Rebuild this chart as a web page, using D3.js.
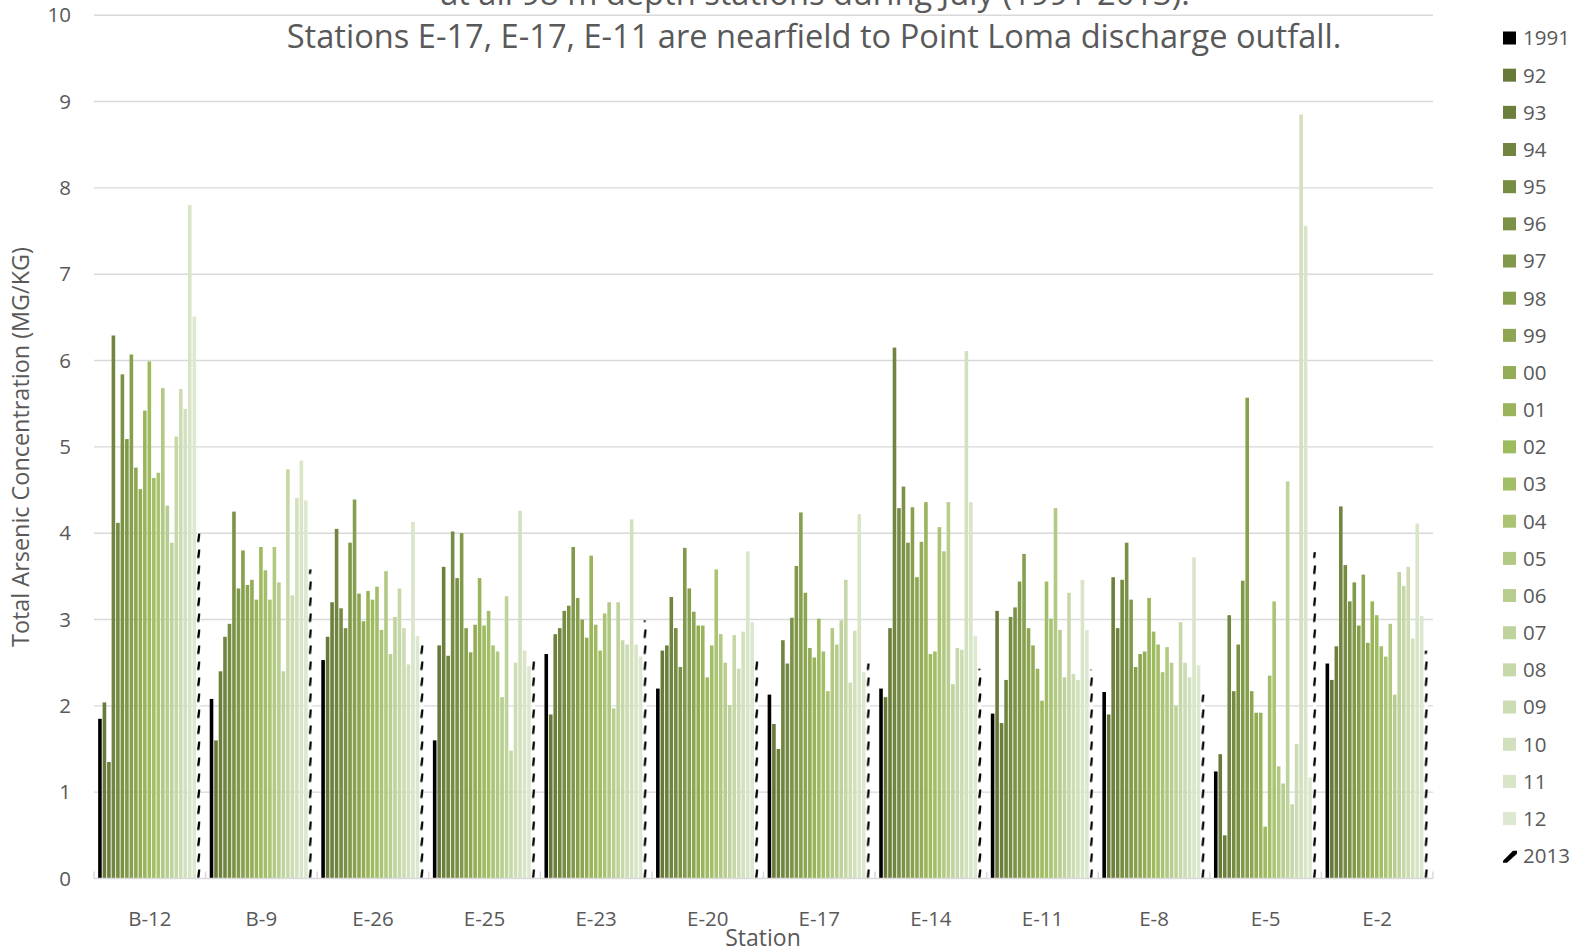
<!DOCTYPE html>
<html><head><meta charset="utf-8">
<script src="https://cdn.jsdelivr.net/npm/d3@7"></script>
<style>
body{margin:0;background:#fff;}
text{font-family:'Open Sans','Liberation Sans',sans-serif;fill:#595959;}
</style>
</head><body>
<svg id="c" width="1585" height="952"></svg>
<script>
// ---------- data ----------
const stations = ["B-12","B-9","E-26","E-25","E-23","E-20","E-17","E-14","E-11","E-8","E-5","E-2"];
const years = ["1991","92","93","94","95","96","97","98","99","00","01","02","03","04","05","06","07","08","09","10","11","12","2013"];
const yTicks = [0,1,2,3,4,5,6,7,8,9,10];
const titleLines = ["at all 98 m depth stations during July (1991-2013).",
                    "Stations E-17, E-17, E-11 are nearfield to Point Loma discharge outfall."];
const yTitle = "Total Arsenic Concentration (MG/KG)";
const xTitle = "Station";

// values per station, one per year (1991 ... 2013)
const vB12 = [1.85,2.04,1.35,6.29,4.12,5.84,5.09,6.07,4.76,4.51,5.42,5.99,4.64,4.70,5.68,4.32,3.89,5.12,5.67,5.44,7.80,6.51,4.03];
const vB9  = [2.08,1.60,2.40,2.80,2.95,4.25,3.36,3.80,3.40,3.46,3.23,3.84,3.57,3.23,3.84,3.43,2.40,4.74,3.28,4.41,4.84,4.38,3.58];
const vE26 = [2.53,2.80,3.20,4.05,3.13,2.90,3.89,4.39,3.30,2.98,3.33,3.23,3.38,2.88,3.56,2.60,3.03,3.36,2.90,2.48,4.13,2.81,2.71];
const vE25 = [1.60,2.70,3.61,2.58,4.02,3.48,4.00,2.90,2.62,2.94,3.48,2.93,3.10,2.70,2.63,2.10,3.27,1.48,2.50,4.26,2.64,2.46,2.54];
const vE23 = [2.60,1.90,2.83,2.90,3.10,3.16,3.84,3.25,3.00,2.79,3.74,2.94,2.64,3.07,3.20,1.97,3.20,2.76,2.71,4.16,2.71,2.57,2.99];
const vE20 = [2.20,2.64,2.70,3.26,2.90,2.45,3.83,3.36,3.09,2.93,2.93,2.33,2.70,3.58,2.83,2.50,2.01,2.82,2.43,2.86,3.79,2.97,2.53];
const vE17 = [2.13,1.79,1.50,2.76,2.49,3.02,3.62,4.24,3.31,2.67,2.56,3.01,2.63,2.17,2.90,2.71,2.99,3.46,2.27,2.87,4.22,2.39,2.49];
const vE14 = [2.20,2.10,2.90,6.15,4.29,4.54,3.89,4.30,3.49,3.90,4.36,2.60,2.63,4.07,3.79,4.36,2.25,2.67,2.65,6.11,4.36,2.81,2.43];
const vE11 = [1.91,3.10,1.80,2.30,3.03,3.14,3.44,3.76,2.90,2.70,2.43,2.06,3.44,3.01,4.29,2.88,2.33,3.31,2.37,2.30,3.46,2.88,2.42];
const vE8  = [2.16,1.90,3.49,2.90,3.46,3.89,3.23,2.45,2.60,2.63,3.25,2.86,2.71,2.39,2.68,2.50,2.00,2.97,2.50,2.33,3.72,2.47,2.13];
const vE5  = [1.24,1.44,0.50,3.05,2.17,2.71,3.45,5.57,2.17,1.92,1.92,0.60,2.35,3.21,1.30,1.10,4.60,0.86,1.56,8.85,7.56,1.17,3.78];
const vE2  = [2.49,2.30,2.69,4.31,3.63,3.21,3.43,2.93,3.52,2.73,3.21,3.05,2.69,2.57,2.95,2.13,3.55,3.39,3.61,2.78,4.11,3.04,2.64];
const stationValues = [vB12,vB9,vE26,vE25,vE23,vE20,vE17,vE14,vE11,vE8,vE5,vE2];

const colors = ["#000000","#687a3a","#6c803c","#718540","#768c43","#7b9246","#81994a","#87a04e",
                "#8ea652","#93ad56","#99b45a","#9ebb5e","#a3be68","#aac474","#b1c982","#b8ce8f",
                "#bfd39c","#c6d8a8","#ccdcb3","#d2e0be","#d8e5c7","#dde8d0","hatch"];

// ---------- layout ----------
const svg = d3.select("#c");
const L = 94, R = 1433, T = 15.2, B = 878.5;
const x = d3.scaleBand().domain(stations).range([L, R]).paddingInner(0.074).paddingOuter(0.037);
const xi = d3.scaleBand().domain(years).range([0, x.bandwidth()]);
const y = d3.scaleLinear().domain([0, 10]).range([B, T]);
const bw = xi.bandwidth() - 0.9;

// hatch pattern for 2013 (in the coordinate system of each station group)
const defs = svg.append("defs");
const pat = defs.append("pattern").attr("id", "hatch")
  .attr("patternUnits", "userSpaceOnUse")
  .attr("x", xi("2013")).attr("y", y(0))
  .attr("width", x.step()).attr("height", 16);
pat.append("rect").attr("width", bw).attr("height", 16).attr("fill", "#fff");
pat.append("path")
  .attr("d", `M0,15.5 L2.4,15.5 L${bw},7 L${bw - 2.4},7 Z`)
  .attr("fill", "#000");

// gridlines
svg.append("g").selectAll("line").data(yTicks.filter(t => t > 0)).join("line")
  .attr("x1", L).attr("x2", R).attr("y1", d => y(d)).attr("y2", d => y(d))
  .attr("stroke", "#d9d9d9").attr("stroke-width", 1.4);

// y axis labels
const ya = svg.append("g").attr("transform", `translate(${L},0)`)
  .call(d3.axisLeft(y).tickValues(yTicks).tickSize(0).tickPadding(23).tickFormat(d3.format("d")));
ya.select(".domain").remove();
ya.selectAll("text").attr("font-size", 20.5).attr("font-family", null).attr("fill", "#595959");

// bars
const groups = svg.append("g").selectAll("g").data(stations).join("g")
  .attr("transform", s => `translate(${x(s)},0)`);
groups.selectAll("rect").data((s, si) => years.map((yr, k) => ({yr, k, v: stationValues[si][k]})))
  .join("rect")
  .attr("x", d => xi(d.yr)).attr("width", bw)
  .attr("y", d => y(d.v)).attr("height", d => y(0) - y(d.v))
  .attr("fill", d => colors[d.k] === "hatch" ? "url(#hatch)" : colors[d.k]);

// baseline & category boundary ticks
svg.append("line").attr("x1", L).attr("x2", R).attr("y1", B).attr("y2", B)
  .attr("stroke", "#d9d9d9").attr("stroke-width", 1.5);
svg.append("g").selectAll("line").data(d3.range(stations.length + 1)).join("line")
  .attr("x1", i => L + i * x.step()).attr("x2", i => L + i * x.step())
  .attr("y1", B).attr("y2", B - 7).attr("stroke", "#d9d9d9").attr("stroke-width", 1.5);

// x axis labels
const xa = svg.append("g").attr("transform", `translate(0,${B})`)
  .call(d3.axisBottom(x).tickSize(0).tickPadding(33));
xa.select(".domain").remove();
xa.selectAll("text").attr("font-size", 20.5).attr("font-family", null).attr("fill", "#595959");

// axis titles
svg.append("text").attr("x", 763).attr("y", 946).attr("text-anchor", "middle")
  .attr("font-size", 23).text(xTitle);
const yt = svg.append("text").attr("transform", "translate(29,447) rotate(-90)")
  .attr("text-anchor", "middle").attr("font-size", 23).text(yTitle);
const ytl = yt.node().getComputedTextLength();
yt.attr("font-size", 23 * 400 / ytl);

// chart title (first line runs off the top, as in the original)
const t2 = svg.append("text").attr("x", 814).attr("y", 48).attr("text-anchor", "middle")
  .attr("font-size", 30).text(titleLines[1]);
const fs = 30 * 1055 / t2.node().getComputedTextLength();
t2.attr("font-size", fs);
svg.append("text").attr("x", 815).attr("y", 5).attr("text-anchor", "middle")
  .attr("font-size", fs).text(titleLines[0]);

// legend
const lg = svg.append("g").selectAll("g").data(years).join("g")
  .attr("transform", (d, i) => `translate(1503,${38 + i * 37.17})`);
lg.filter(d => colors[years.indexOf(d)] !== "hatch").append("rect")
  .attr("x", 0).attr("y", -6.5).attr("width", 13).attr("height", 13)
  .attr("fill", d => colors[years.indexOf(d)]);
lg.filter(d => colors[years.indexOf(d)] === "hatch").append("path")
  .attr("d", "M0,5 L0,7 L4,7 L14,-2 L14,-5 L10,-5 Z").attr("fill", "#000");
lg.append("text").attr("x", 20).attr("dy", "0.36em").attr("font-size", 20.5).text(d => d);
</script>
</body></html>
